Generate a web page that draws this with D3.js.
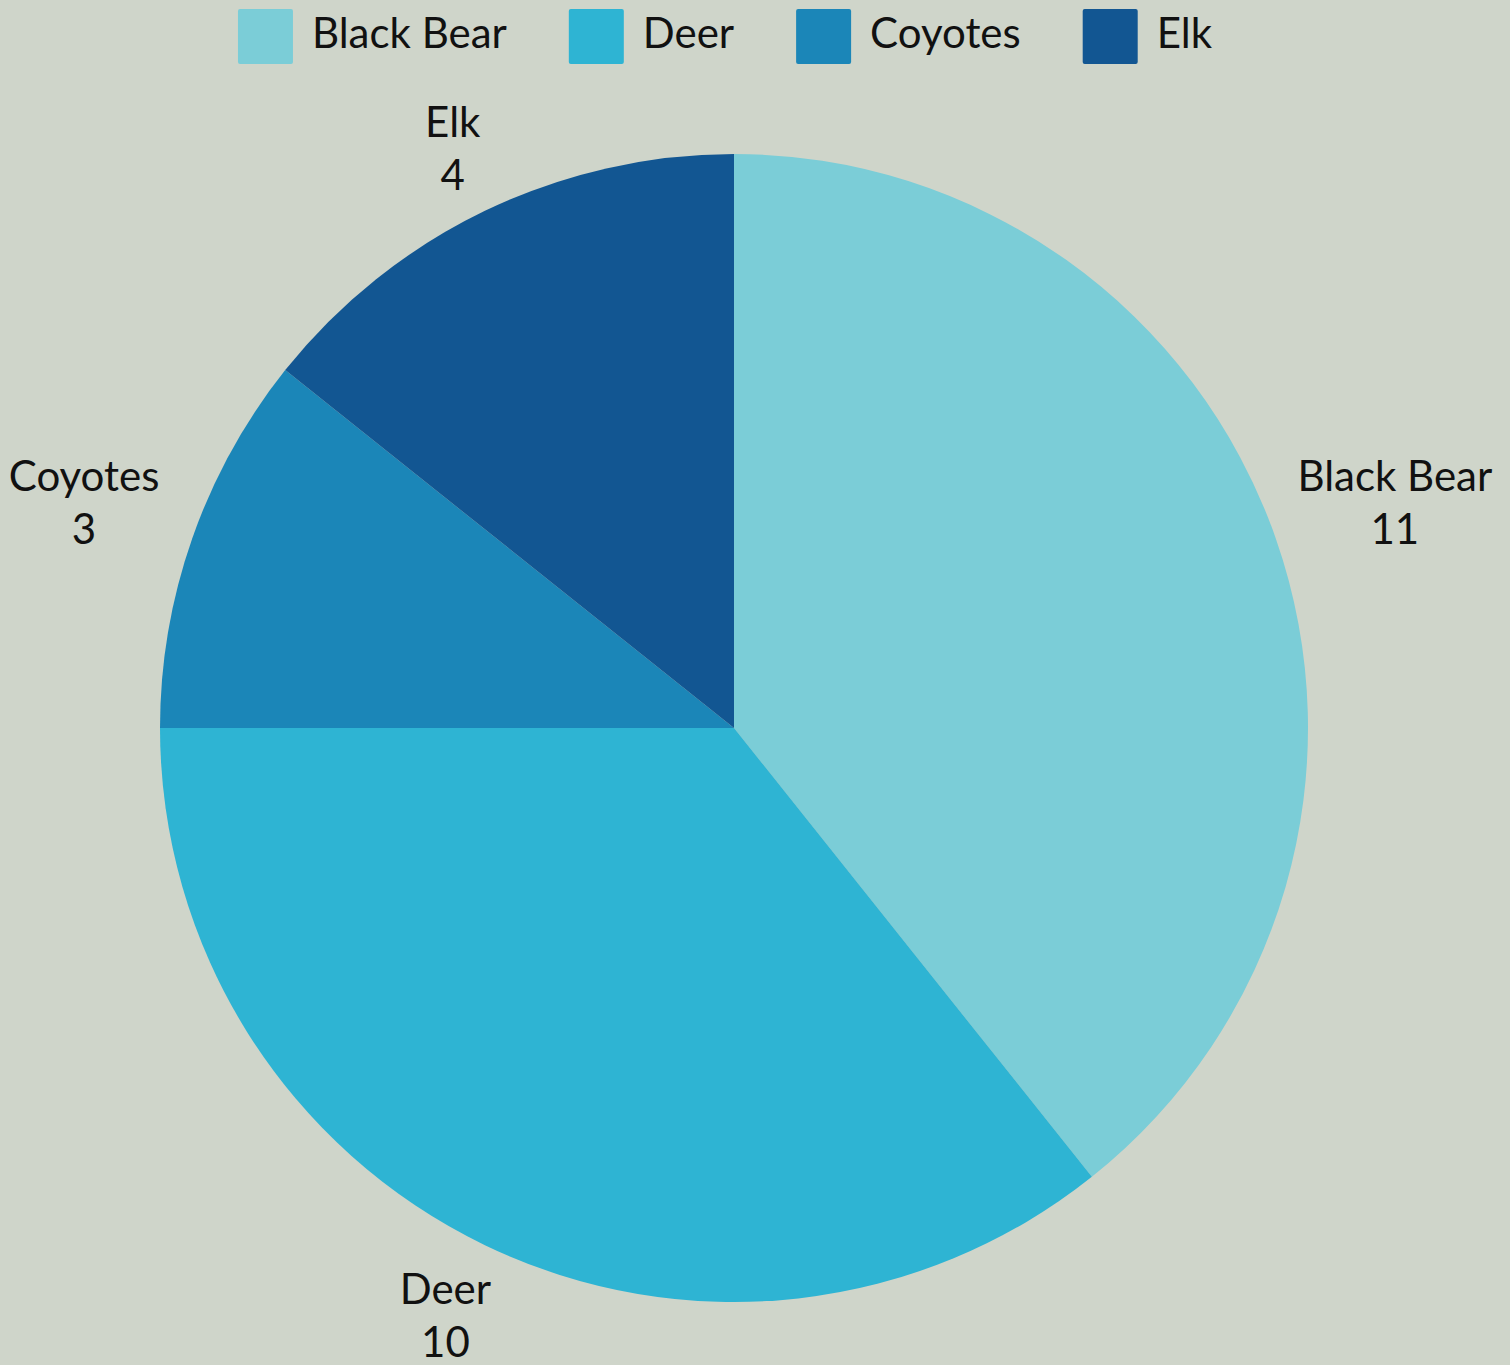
<!DOCTYPE html>
<html><head><meta charset="utf-8">
<script src="https://cdn.jsdelivr.net/npm/d3@7"></script>
<style>html,body{margin:0;padding:0;background:#CFD5CA;}svg{display:block;}</style>
</head><body>
<svg id="chart" width="1510" height="1365"></svg>
<script>
const categories = ["Black Bear", "Deer", "Coyotes", "Elk"];
const values = [11, 10, 3, 4];
const colors = ["#7BCDD7", "#2EB4D3", "#1B86B8", "#125692"];

const W = 1510, H = 1365;
const cx = 734, cy = 728, R = 574;
const labelRx = 608, labelRy = 620, labelOffY = 25, labelShiftX = -5, labelShiftY = 3;
const font = "Lato, 'Noto Sans', sans-serif";
const fs = 42;

const svg = d3.select("#chart");
svg.append("rect").attr("width", W).attr("height", H).attr("fill", "#CFD5CA");

const data = categories.map((c, i) => ({ name: c, value: values[i] }));
const color = d3.scaleOrdinal().domain(categories).range(colors);
const pie = d3.pie().value(d => d.value).sort(null);
const arcs = pie(data);
const arc = d3.arc().innerRadius(0).outerRadius(R);

const g = svg.append("g").attr("transform", `translate(${cx},${cy})`);
g.selectAll("path").data(arcs).join("path")
  .attr("d", arc).attr("fill", d => color(d.data.name));

// labels
const lg = g.selectAll("g.lab").data(arcs).join("g").attr("class", "lab");
lg.each(function(d) {
  const sel = d3.select(this);
  const t = sel.append("text").attr("font-family", font).attr("font-size", fs)
    .attr("fill", "#111").attr("text-anchor", "middle");
  t.append("tspan").attr("x", 0).attr("dy", 0).text(d.data.name);
  t.append("tspan").attr("x", 0).attr("dy", 53).text(d.data.value);
  const bb = t.node().getBBox();
  const a = (d.startAngle + d.endAngle) / 2;
  const ux = Math.sin(a), uy = -Math.cos(a);
  const ccx = ux * (labelRx + bb.width / 2) + labelShiftX;
  const ccy = labelRy * uy + Math.sign(uy) * labelOffY + labelShiftY;
  const bcx = bb.x + bb.width / 2, bcy = bb.y + bb.height / 2;
  sel.attr("transform", `translate(${ccx - bcx},${ccy - bcy})`);
});

// legend
const leg = svg.append("g");
let x = 0;
const items = leg.selectAll("g").data(categories).join("g");
items.each(function(c) {
  const s = d3.select(this);
  s.append("rect").attr("x", 0).attr("y", 9).attr("width", 55).attr("height", 55)
    .attr("rx", 2).attr("fill", color(c));
  const t = s.append("text").attr("x", 74).attr("y", 48).attr("font-family", font)
    .attr("font-size", fs).attr("fill", "#111").text(c);
  const w = t.node().getComputedTextLength();
  s.attr("transform", `translate(${x},0)`);
  x += 74 + w + 62;
});
const totalW = x - 62;
leg.attr("transform", `translate(${725 - totalW / 2},0)`);
</script>
</body></html>
